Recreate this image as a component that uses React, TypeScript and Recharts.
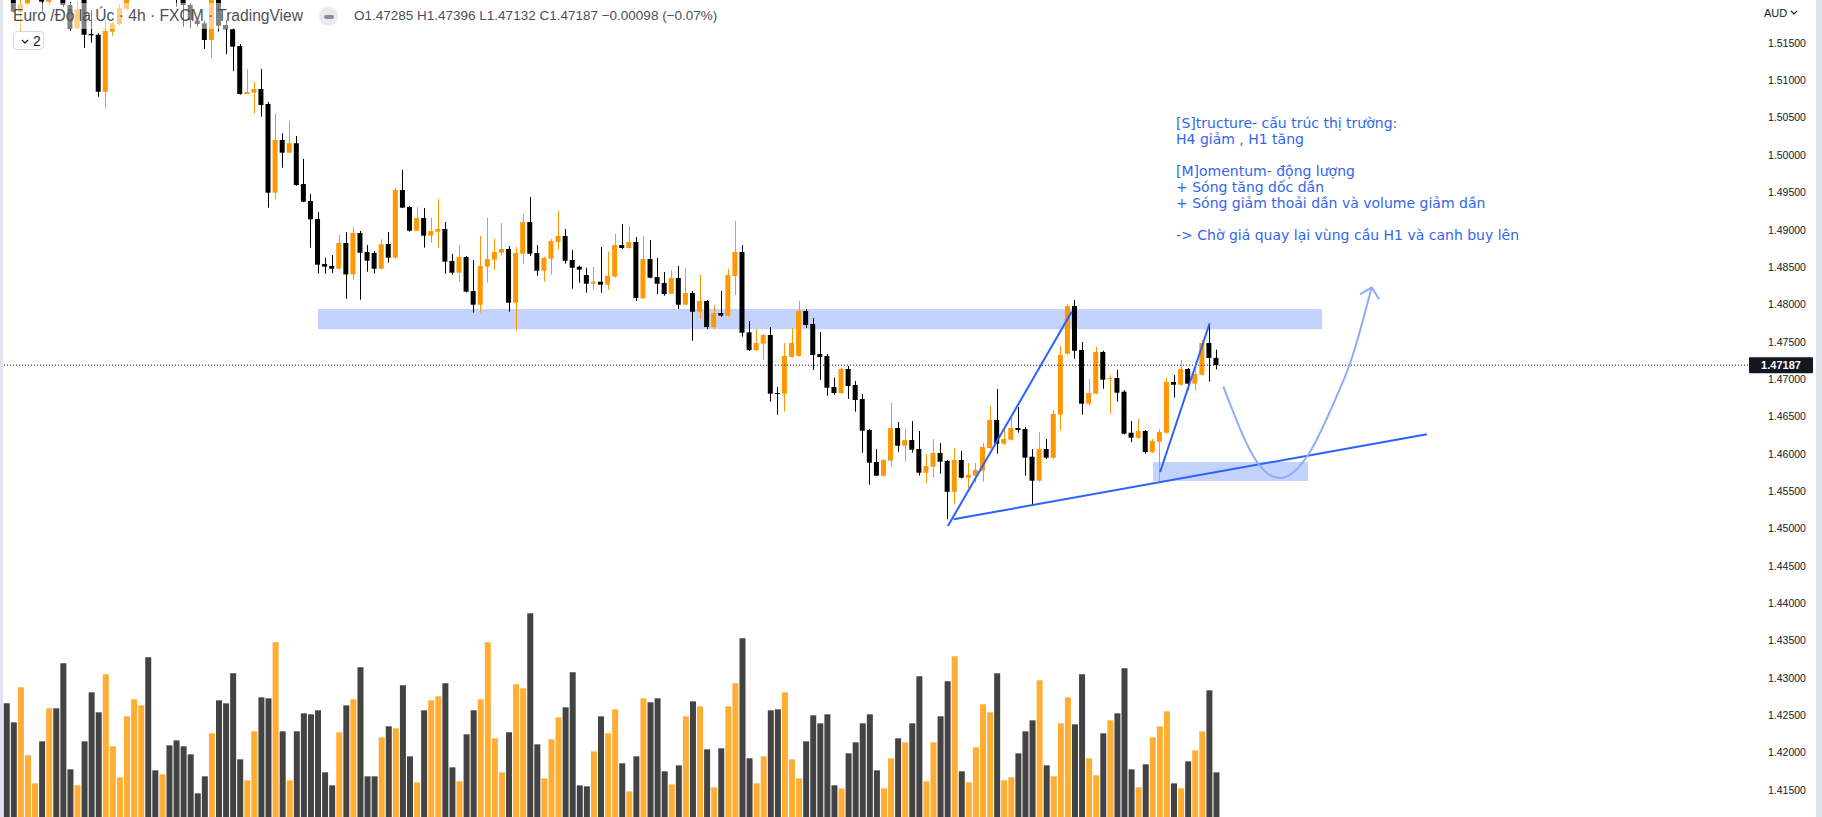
import React from "react";
import {
  ComposedChart,
  Bar,
  Line,
  XAxis,
  YAxis,
  ReferenceLine,
  ReferenceArea,
  Cell,
} from "recharts";

// EUR/AUD 4h (FXCM), oldest candle first
const opens = [
  1.524, 1.5225, 1.51919, 1.52022, 1.5215, 1.5235, 1.52053, 1.5222, 1.5212, 1.52009,
  1.51697, 1.5209, 1.51621, 1.51611, 1.50848, 1.51652, 1.51755, 1.51956, 1.5215, 1.5228,
  1.5238, 1.5228, 1.5218, 1.5226, 1.5215, 1.521, 1.52009, 1.51799, 1.51764, 1.51541,
  1.5212, 1.51741, 1.51684, 1.5146, 1.50818, 1.50835, 1.50885, 1.50684, 1.49496, 1.50202,
  1.50032, 1.50158, 1.49613, 1.49385, 1.49144, 1.48542, 1.48515, 1.48479, 1.48823, 1.48402,
  1.48957, 1.48703, 1.48689, 1.48479, 1.4881, 1.48626, 1.49533, 1.49305, 1.48988, 1.49158,
  1.48921, 1.48974, 1.4901, 1.48582, 1.48425, 1.48636, 1.4818, 1.47997, 1.48506, 1.486,
  1.48693, 1.48743, 1.48024, 1.4868, 1.49104, 1.48689, 1.48452, 1.48613, 1.48836, 1.48917,
  1.48595, 1.48506, 1.48395, 1.48278, 1.48305, 1.48265, 1.48372, 1.48796, 1.48756, 1.48836,
  1.48083, 1.48609, 1.48368, 1.48288, 1.48144, 1.48354, 1.47997, 1.48154, 1.47903, 1.48047,
  1.47698, 1.47886, 1.4785, 1.48381, 1.48703, 1.47627, 1.4739, 1.47475, 1.47591, 1.46815,
  1.46806, 1.47297, 1.4731, 1.47913, 1.47739, 1.47337, 1.4731, 1.46895, 1.46815, 1.47136,
  1.46922, 1.46735, 1.4632, 1.45891, 1.45708, 1.45909, 1.46346, 1.46109, 1.46185, 1.46065,
  1.45748, 1.45828, 1.46012, 1.45905, 1.45493, 1.45918, 1.45681, 1.45708, 1.45775, 1.46079,
  1.46454, 1.46136, 1.4619, 1.46346, 1.46333, 1.45962, 1.45641, 1.46065, 1.45949, 1.46525,
  1.47341, 1.47979, 1.47391, 1.46672, 1.46806, 1.47364, 1.47002, 1.47016, 1.46833, 1.46283,
  1.46216, 1.46306, 1.46025, 1.46163, 1.46284, 1.46962, 1.46926, 1.47136, 1.4694, 1.4706,
  1.47484, 1.47285,
];

const highs = [
  1.525, 1.5235, 1.521, 1.5222, 1.524, 1.524, 1.5228, 1.523, 1.5215, 1.5205,
  1.52053, 1.5212, 1.51942, 1.5163, 1.51808, 1.5178, 1.52022, 1.522, 1.5232, 1.5245,
  1.5243, 1.5232, 1.523, 1.5232, 1.522, 1.5214, 1.5203, 1.5184, 1.518, 1.5218,
  1.5215, 1.51808, 1.517, 1.51487, 1.51152, 1.50978, 1.51152, 1.50711, 1.50559, 1.50291,
  1.50456, 1.50255, 1.49948, 1.49479, 1.49238, 1.48626, 1.48662, 1.4893, 1.4897, 1.49037,
  1.48984, 1.48796, 1.48716, 1.48876, 1.4897, 1.49559, 1.498, 1.4932, 1.49305, 1.49291,
  1.49158, 1.49412, 1.49104, 1.48676, 1.48796, 1.4865, 1.48595, 1.48917, 1.49158, 1.48876,
  1.49091, 1.48783, 1.48769, 1.49211, 1.49439, 1.48796, 1.4864, 1.48876, 1.49251, 1.4901,
  1.48729, 1.4852, 1.48492, 1.48506, 1.48769, 1.48707, 1.48943, 1.49077, 1.49051, 1.48903,
  1.48917, 1.48863, 1.48622, 1.48435, 1.48462, 1.48515, 1.48488, 1.4818, 1.48395, 1.4806,
  1.47993, 1.4818, 1.48475, 1.49118, 1.48796, 1.47779, 1.47671, 1.47605, 1.47698, 1.46895,
  1.47484, 1.47685, 1.48047, 1.4794, 1.47819, 1.47631, 1.47337, 1.4702, 1.4715, 1.47177,
  1.46976, 1.46802, 1.46333, 1.46065, 1.4593, 1.46681, 1.46427, 1.46333, 1.4644, 1.46306,
  1.45998, 1.46199, 1.46146, 1.4592, 1.46079, 1.46039, 1.45878, 1.45878, 1.46146, 1.46641,
  1.46869, 1.46373, 1.46507, 1.46628, 1.4636, 1.46065, 1.46293, 1.46199, 1.46587, 1.47444,
  1.48006, 1.4806, 1.47498, 1.47002, 1.47431, 1.4738, 1.47056, 1.47123, 1.46855, 1.4644,
  1.46467, 1.4632, 1.46199, 1.46333, 1.47016, 1.47056, 1.47257, 1.4715, 1.47167, 1.47525,
  1.47748, 1.47396,
];

const lows = [
  1.5215, 1.5191, 1.5163, 1.51996, 1.5212, 1.51919, 1.52, 1.521, 1.5198, 1.51665,
  1.5169, 1.51437, 1.51504, 1.50781, 1.50626, 1.51598, 1.51728, 1.5194, 1.5212, 1.5225,
  1.5225, 1.5214, 1.5212, 1.521, 1.51986, 1.51719, 1.51697, 1.5172, 1.5142, 1.51304,
  1.51652, 1.51353, 1.51126, 1.5081, 1.50818, 1.50559, 1.50514, 1.49296, 1.49402, 1.49831,
  1.5003, 1.4959, 1.4937, 1.4876, 1.48412, 1.48412, 1.48421, 1.4847, 1.48077, 1.48332,
  1.48064, 1.48439, 1.48412, 1.4847, 1.48559, 1.48613, 1.4929, 1.48974, 1.4898, 1.4876,
  1.48827, 1.4876, 1.48412, 1.48399, 1.48305, 1.4816, 1.4789, 1.4789, 1.48292, 1.48466,
  1.48653, 1.47903, 1.47649, 1.48546, 1.4865, 1.48385, 1.48305, 1.48399, 1.48733, 1.48546,
  1.48211, 1.48292, 1.48158, 1.48198, 1.48158, 1.48198, 1.4836, 1.48743, 1.4875, 1.48047,
  1.4808, 1.4835, 1.4814, 1.48117, 1.4814, 1.4794, 1.4799, 1.47515, 1.47806, 1.47671,
  1.47671, 1.47836, 1.47836, 1.48127, 1.47568, 1.47377, 1.47377, 1.47257, 1.46699, 1.46524,
  1.46565, 1.4729, 1.473, 1.47685, 1.47123, 1.46989, 1.46779, 1.46792, 1.46802, 1.46735,
  1.46565, 1.46016, 1.45587, 1.45708, 1.457, 1.45828, 1.46029, 1.45895, 1.46016, 1.45708,
  1.45606, 1.45681, 1.45735, 1.45124, 1.45325, 1.4567, 1.45543, 1.45614, 1.45628, 1.4607,
  1.46002, 1.4612, 1.4618, 1.46284, 1.45708, 1.45306, 1.4563, 1.4593, 1.4593, 1.4631,
  1.4733, 1.47274, 1.46525, 1.46645, 1.468, 1.46872, 1.46538, 1.46699, 1.4626, 1.46159,
  1.462, 1.46002, 1.4601, 1.45624, 1.4627, 1.46752, 1.4691, 1.46859, 1.46845, 1.4705,
  1.46966, 1.47132,
];

const closes = [
  1.5222, 1.5192, 1.52022, 1.5215, 1.5235, 1.52053, 1.5222, 1.5212, 1.52009, 1.51688,
  1.51951, 1.51611, 1.51603, 1.50848, 1.51661, 1.51764, 1.51965, 1.5215, 1.5228, 1.5238,
  1.5228, 1.5218, 1.5226, 1.5215, 1.521, 1.52009, 1.51808, 1.51755, 1.51541, 1.5212,
  1.51732, 1.51684, 1.51451, 1.50818, 1.50844, 1.50885, 1.5067, 1.49496, 1.50202, 1.50032,
  1.50158, 1.49599, 1.49376, 1.4914, 1.48533, 1.48506, 1.48479, 1.48823, 1.48402, 1.48957,
  1.48693, 1.48586, 1.48479, 1.48806, 1.48626, 1.49533, 1.49296, 1.48988, 1.49158, 1.48921,
  1.48984, 1.4901, 1.48573, 1.48425, 1.48636, 1.48171, 1.47997, 1.48515, 1.48609, 1.48703,
  1.48743, 1.48024, 1.48689, 1.49104, 1.4868, 1.48452, 1.48622, 1.4885, 1.48917, 1.48586,
  1.48492, 1.48466, 1.48278, 1.48305, 1.48265, 1.48385, 1.48796, 1.48756, 1.48836, 1.48087,
  1.48609, 1.48358, 1.48278, 1.4814, 1.48354, 1.47997, 1.48154, 1.47903, 1.48047, 1.47698,
  1.47886, 1.4785, 1.48395, 1.48703, 1.47622, 1.4739, 1.47484, 1.47591, 1.46806, 1.46806,
  1.4731, 1.47484, 1.47913, 1.47725, 1.47324, 1.47297, 1.46886, 1.46815, 1.47136, 1.46909,
  1.46721, 1.4631, 1.45882, 1.45708, 1.45918, 1.46346, 1.46109, 1.46185, 1.46056, 1.45748,
  1.45837, 1.46012, 1.45895, 1.45493, 1.45918, 1.45681, 1.45717, 1.45784, 1.46092, 1.46454,
  1.46136, 1.46199, 1.46346, 1.4632, 1.45949, 1.45641, 1.46065, 1.45949, 1.46534, 1.47326,
  1.47979, 1.47381, 1.46672, 1.46815, 1.47364, 1.46993, 1.47016, 1.46819, 1.4627, 1.46216,
  1.46306, 1.46025, 1.46172, 1.46293, 1.46962, 1.46926, 1.47136, 1.4694, 1.47069, 1.47484,
  1.47284, 1.47187,
];

const volumes = [
  341, 284, 389, 185, 101, 227, 326, 326, 461, 143,
  95, 227, 374, 314, 428, 212, 119, 302, 353, 335,
  479, 140, 128, 215, 230, 212, 188, 71, 122, 251,
  350, 341, 431, 173, 110, 257, 359, 356, 524, 257,
  110, 257, 311, 308, 320, 134, 95, 254, 335, 353,
  449, 122, 122, 239, 272, 266, 395, 182, 104, 320,
  350, 362, 401, 149, 107, 248, 320, 353, 524, 236,
  134, 254, 398, 386, 611, 218, 116, 233, 299, 329,
  434, 95, 92, 197, 302, 251, 323, 161, 77, 182,
  356, 344, 356, 137, 98, 155, 302, 347, 332, 203,
  89, 206, 332, 401, 536, 176, 101, 182, 320, 323,
  374, 173, 116, 227, 305, 281, 308, 95, 86, 191,
  224, 281, 308, 140, 86, 176, 236, 224, 281, 422,
  107, 224, 302, 407, 482, 137, 104, 209, 338, 314,
  431, 110, 119, 191, 257, 290, 410, 155, 122, 281,
  359, 278, 428, 176, 125, 251, 290, 311, 446, 143,
  89, 158, 239, 272, 317, 101, 86, 167, 200, 257,
  380, 134,
];

const priceTicks = [
  1.415, 1.42, 1.425, 1.43, 1.435, 1.44, 1.445, 1.45, 1.455, 1.46, 1.465,
  1.47, 1.475, 1.48, 1.485, 1.49, 1.495, 1.5, 1.505, 1.51, 1.515,
];
const lastPrice = 1.47187;

// drawings, in (bar index, price)
const supplyZone = [44.06, 186, 1.4767, 1.4794];
const demandZone = [162.1, 184, 1.45637, 1.45891];
const trendLines = [
  [[133.1, 1.45034], [150.6, 1.47903]],
  [[133.9, 1.45124], [200.8, 1.46263]],
  [[163.1, 1.45757], [170.1, 1.47748]],
];
const pathIdx = [172.04, 174.4, 176.76, 180.3, 184.3, 187.6, 189.95, 191.8, 193.0];
const pathPrice = [1.46899, 1.4632, 1.45834, 1.45571, 1.45955, 1.46677, 1.47167, 1.47792, 1.4823];
const headIdx = [191.36, 193.0, 194.05];
const headPrice = [1.48136, 1.4823, 1.48069];

const notes = [
  "[S]tructure- cấu trúc thị trường:",
  "H4 giảm , H1 tăng",
  "",
  "[M]omentum- động lượng",
  "+ Sóng tăng dốc dần",
  "+ Sóng giảm thoải dần và volume giảm dần",
  "",
  "-> Chờ giá quay lại vùng cầu H1 và canh buy lên",
];

const UP = "#ff9800";
const DOWN = "#000000";
const UP_VOL = "#ffad33";
const DOWN_VOL = "#434343";
const uiFont = "'Liberation Sans', Arial, sans-serif";

const rows = opens.map((o, i) => ({
  i,
  o,
  h: highs[i],
  l: lows[i],
  c: closes[i],
  range: [lows[i], highs[i]],
  v: volumes[i],
}));

const curve = pathIdx.map((i, k) => ({ i, p: pathPrice[k] }));
const head = headIdx.map((i, k) => ({ i, p: headPrice[k] }));

const xDomain = [-0.89, 246.2];
const yDomain = [1.41139, 1.52076];

function Candle(props: any) {
  const { x, y, width, height, payload } = props;
  if (!payload) return null;
  const { o, h, l, c } = payload;
  const top = height >= 0 ? y : y + height;
  const span = Math.abs(height);
  const k = span / (h - l || 1);
  const py = (p: number) => top + (h - p) * k;
  const bTop = py(Math.max(o, c));
  const bBot = py(Math.min(o, c));
  const color = c >= o ? UP : DOWN;
  const cx = Math.round(x + width / 2) + 0.5;
  return (
    <g>
      <line x1={cx} x2={cx} y1={top} y2={top + span} stroke={color} strokeWidth={1} />
      <rect x={x} y={bTop} width={width} height={Math.max(bBot - bTop, 1)} fill={color} />
    </g>
  );
}

function PriceTag(props: any) {
  const vb = props.viewBox || {};
  const x = vb.x + vb.width + 1;
  const y = vb.y;
  return (
    <g>
      <rect x={x} y={y - 8} width={64} height={16} rx={1} fill="#131722" />
      <text
        x={x + 32}
        y={y}
        dy={4}
        textAnchor="middle"
        fill="#ffffff"
        fontSize={11}
        fontWeight={700}
        fontFamily={uiFont}
      >
        {lastPrice.toFixed(5)}
      </text>
    </g>
  );
}

export default function App() {
  return (
    <div
      style={{
        position: "relative",
        width: 1822,
        height: 817,
        overflow: "hidden",
        background: "#ffffff",
        fontFamily: uiFont,
      }}
    >
      <style>{"body{margin:0}"}</style>

      <ComposedChart
        width={1822}
        height={817}
        data={rows}
        margin={{ top: 0, right: 0, bottom: 0, left: 0 }}
      >
        <XAxis xAxisId="x" dataKey="i" type="number" domain={xDomain} allowDataOverflow hide />
        <XAxis xAxisId="xv" dataKey="i" type="number" domain={xDomain} allowDataOverflow hide />
        <XAxis xAxisId="xd" dataKey="i" type="number" domain={xDomain} allowDataOverflow hide />
        <YAxis
          yAxisId="price"
          orientation="right"
          type="number"
          width={74}
          domain={yDomain}
          allowDataOverflow
          ticks={priceTicks}
          interval={0}
          tickFormatter={(v: number) => v.toFixed(5)}
          tickLine={false}
          axisLine={false}
          tickMargin={14}
          tick={{ fill: "#131722", fontSize: 10.5, fontFamily: uiFont }}
        />
        <YAxis yAxisId="vol" type="number" domain={[0, 2451]} hide />

        <ReferenceArea
          xAxisId="x"
          yAxisId="price"
          x1={supplyZone[0]}
          x2={supplyZone[1]}
          y1={supplyZone[2]}
          y2={supplyZone[3]}
          fill="#c4d3fd"
          fillOpacity={1}
          stroke="none"
        />
        <ReferenceArea
          xAxisId="x"
          yAxisId="price"
          x1={demandZone[0]}
          x2={demandZone[1]}
          y1={demandZone[2]}
          y2={demandZone[3]}
          fill="#c4d3fd"
          fillOpacity={1}
          stroke="none"
        />

        <Bar
          xAxisId="xv"
          yAxisId="vol"
          dataKey="v"
          barSize={6}
          isAnimationActive={false}
        >
          {rows.map((r) => (
            <Cell key={r.i} fill={r.c >= r.o ? UP_VOL : DOWN_VOL} />
          ))}
        </Bar>

        <Bar
          xAxisId="x"
          yAxisId="price"
          dataKey="range"
          barSize={5}
          shape={<Candle />}
          isAnimationActive={false}
        />

        <ReferenceLine
          xAxisId="x"
          yAxisId="price"
          y={lastPrice}
          stroke="#131722"
          strokeDasharray="1 2"
          label={<PriceTag />}
        />

        {trendLines.map((seg, k) => (
          <ReferenceLine
            key={k}
            xAxisId="x"
            yAxisId="price"
            segment={[
              { x: seg[0][0], y: seg[0][1] },
              { x: seg[1][0], y: seg[1][1] },
            ]}
            stroke="#2962ff"
            strokeWidth={2}
            ifOverflow="visible"
          />
        ))}

        <Line
          xAxisId="xd"
          yAxisId="price"
          data={curve}
          dataKey="p"
          type="basis"
          stroke="#8dacf8"
          strokeWidth={2}
          dot={false}
          isAnimationActive={false}
        />
        <Line
          xAxisId="xd"
          yAxisId="price"
          data={head}
          dataKey="p"
          type="linear"
          stroke="#8dacf8"
          strokeWidth={2}
          dot={false}
          isAnimationActive={false}
        />
      </ComposedChart>

      {/* left / right edges */}
      <div style={{ position: "absolute", left: 0, top: 0, width: 3, height: 817, background: "#e0e3eb" }} />
      <div style={{ position: "absolute", left: 1816, top: 0, width: 6, height: 817, background: "#e0e3eb" }} />

      {/* legend */}
      <div style={{ position: "absolute", left: 10, top: 3, width: 300, height: 26, background: "rgba(255,255,255,0.5)" }} />
      <div
        style={{
          position: "absolute",
          left: 13,
          top: 7,
          fontSize: 15.6,
          lineHeight: "18px",
          color: "#4c4f57",
          whiteSpace: "pre",
        }}
      >
        Euro /Đô la Úc · 4h · FXCM · TradingView
      </div>
      <div
        style={{
          position: "absolute",
          left: 319,
          top: 7,
          width: 19,
          height: 19,
          borderRadius: "50%",
          background: "#e9eaee",
        }}
      >
        <div style={{ position: "absolute", left: 4.5, top: 7.5, width: 10, height: 4, borderRadius: 2, background: "#8a8d96" }} />
      </div>
      <div
        style={{
          position: "absolute",
          left: 354,
          top: 8,
          fontSize: 13.5,
          lineHeight: "16px",
          color: "#4c4f57",
          whiteSpace: "pre",
        }}
      >
        O1.47285 H1.47396 L1.47132 C1.47187 −0.00098 (−0.07%)
      </div>
      <div
        style={{
          position: "absolute",
          left: 13,
          top: 31,
          width: 31,
          height: 19,
          boxSizing: "border-box",
          border: "1px solid #d6d8de",
          borderRadius: 4,
          background: "#ffffff",
        }}
      >
        <svg width={8} height={6} style={{ position: "absolute", left: 7, top: 7 }}>
          <polyline points="1,1 4,4 7,1" fill="none" stroke="#131722" strokeWidth={1.2} />
        </svg>
        <div style={{ position: "absolute", left: 19, top: 1, fontSize: 14, lineHeight: "16px", color: "#131722" }}>2</div>
      </div>

      {/* currency label on the price scale */}
      <div style={{ position: "absolute", left: 1764, top: 6, fontSize: 11, lineHeight: "14px", color: "#131722" }}>
        AUD
      </div>
      <svg width={8} height={6} style={{ position: "absolute", left: 1790, top: 10 }}>
        <polyline points="1,1 4,4 7,1" fill="none" stroke="#131722" strokeWidth={1.1} />
      </svg>

      {/* note */}
      <div
        style={{
          position: "absolute",
          left: 1176,
          top: 115,
          fontFamily: "'DejaVu Sans', Verdana, sans-serif",
          fontSize: 14,
          lineHeight: "16px",
          color: "#3366ee",
          whiteSpace: "pre",
        }}
      >
        {notes.join("\n")}
      </div>
    </div>
  );
}
